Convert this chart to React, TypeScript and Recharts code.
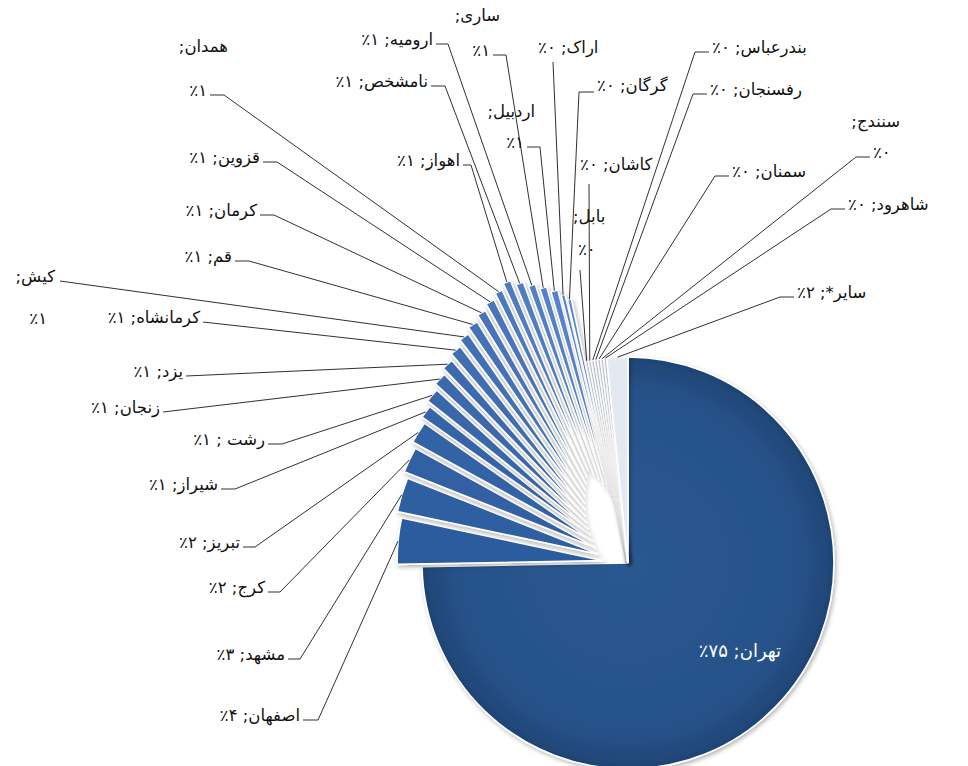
import React from 'react';
import { PieChart, Pie, Cell, Sector } from 'recharts';

// share of users by city (percent of total)
const cities = [
  'تهران', 'اصفهان', 'مشهد', 'کرج', 'تبریز', 'شیراز', 'رشت ', 'زنجان', 'یزد', 'کرمانشاه',
  'کیش', 'قم', 'کرمان', 'قزوین', 'همدان', 'اهواز', 'نامشخص', 'ارومیه', 'ساری', 'اردبیل',
  'اراک', 'گرگان', 'بابل', 'کاشان', 'بندرعباس', 'رفسنجان', 'سمنان', 'سنندج', 'شاهرود', 'سایر*',
];
const shares = [
  74.7, 3.6, 2.7, 2.0, 1.7, 1.0, 1.1, 1.0, 0.9, 0.9,
  0.8, 0.8, 0.7, 0.7, 0.6, 0.6, 0.6, 0.55, 0.55, 0.55,
  0.3, 0.3, 0.24, 0.24, 0.24, 0.24, 0.24, 0.24, 0.24, 1.65,
];

const data = cities.map((name, i) => ({ name, value: shares[i] }));

// label placement (text anchor, baseline, leader attach point, stub length)
// split = name on one line, percent on the next
const labelLayout: any[] = [
  { x: 740, y: 657, a: 'middle', inside: true },
  { x: 300, y: 721, a: 'end', lx: 303, ly: 720, sx: 15 },
  { x: 285, y: 660, a: 'end', lx: 288, ly: 659, sx: 12 },
  { x: 265, y: 593, a: 'end', lx: 268, ly: 592, sx: 12 },
  { x: 240, y: 548, a: 'end', lx: 243, ly: 547, sx: 12 },
  { x: 218, y: 490, a: 'end', lx: 221, ly: 489, sx: 14 },
  { x: 265, y: 445, a: 'end', lx: 268, ly: 444, sx: 14 },
  { x: 160, y: 413, a: 'end', lx: 163, ly: 412, sx: 0 },
  { x: 183, y: 377, a: 'end', lx: 186, ly: 376, sx: 0 },
  { x: 200, y: 323, a: 'end', lx: 203, ly: 322, sx: 0 },
  { x: 55, y: 282, a: 'end', split: true, x2: 47, y2: 324, a2: 'end', lx: 60, ly: 281, sx: 0 },
  { x: 232, y: 262, a: 'end', lx: 235, ly: 261, sx: 14 },
  { x: 257, y: 216, a: 'end', lx: 260, ly: 215, sx: 14 },
  { x: 260, y: 163, a: 'end', lx: 263, ly: 162, sx: 14 },
  { x: 228, y: 52, a: 'end', split: true, x2: 207, y2: 96, a2: 'end', lx: 210, ly: 95, sx: 14 },
  { x: 460, y: 166, a: 'end', lx: 463, ly: 165, sx: 8 },
  { x: 428, y: 87, a: 'end', lx: 431, ly: 86, sx: 14 },
  { x: 433, y: 45, a: 'end', lx: 436, ly: 44, sx: 12 },
  { x: 500, y: 21, a: 'end', split: true, x2: 490, y2: 56, a2: 'end', lx: 493, ly: 55, sx: 13 },
  { x: 535, y: 117, a: 'end', split: true, x2: 524, y2: 148, a2: 'end', lx: 527, ly: 147, sx: 13 },
  { x: 538, y: 53, a: 'start', lx: 553, ly: 62, sx: 0 },
  { x: 597, y: 91, a: 'start', lx: 594, ly: 92, sx: -15 },
  { x: 573, y: 222, a: 'start', split: true, x2: 578, y2: 255, a2: 'start', lx: 580, ly: 270, sx: 0 },
  { x: 580, y: 170, a: 'start', lx: 589, ly: 184, sx: 0 },
  { x: 712, y: 53, a: 'start', lx: 709, ly: 52, sx: -14 },
  { x: 710, y: 95, a: 'start', lx: 707, ly: 94, sx: -14 },
  { x: 732, y: 177, a: 'start', lx: 729, ly: 176, sx: -14 },
  { x: 900, y: 127, a: 'end', split: true, x2: 873, y2: 158, a2: 'start', lx: 870, ly: 157, sx: -14 },
  { x: 848, y: 210, a: 'start', lx: 845, ly: 209, sx: -14 },
  { x: 797, y: 298, a: 'start', lx: 794, ly: 297, sx: -14 },
];

const RAD = Math.PI / 180;
const FAN_END = 21; // slices 1..21 are pulled out of the pie
const RLM = '\u200F';

// how far each slice is pulled out, px
const explodeFor = (i: number) => {
  if (i < 1 || i > FAN_END) return 0;
  return i <= 15 ? 25 + (75 * (i - 1)) / 14 : 100 - 6 * (i - 15);
};

const colorFor = (i: number) => {
  if (i === 0) return 'url(#tehranGrad)';
  if (i <= FAN_END) {
    const t = (i - 1) / (FAN_END - 1);
    const r = Math.round(44 + (92 - 44) * t);
    const g = Math.round(92 + (136 - 92) * t);
    const b = Math.round(158 + (206 - 158) * t);
    return `rgb(${r},${g},${b})`;
  }
  if (i < cities.length - 1) return '#c9ced6';
  return '#e3e9f2';
};

const faDigits = (n: number) => String(n).replace(/\d/g, (d) => '۰۱۲۳۴۵۶۷۸۹'[+d]);

const indexOfSlice = (p: any) => {
  const name = p.name ?? p.payload?.name;
  return cities.indexOf(name);
};

const ExplodedSector = (props: any) => {
  const i = indexOfSlice(props);
  const d = explodeFor(i);
  const dx = d * Math.cos(-props.midAngle * RAD);
  const dy = d * Math.sin(-props.midAngle * RAD);
  return (
    <g filter="url(#sh)">
      <Sector {...props} cx={props.cx + dx} cy={props.cy + dy} />
    </g>
  );
};

const FONT = "'DejaVu Sans', sans-serif";
const FS = 16.5;

const renderLabel = (p: any) => {
  const i = p.index ?? indexOfSlice(p);
  const L = labelLayout[i];
  if (!L) return null;
  const pct = faDigits(Math.round(p.percent * 100));
  const name = cities[i];

  if (L.inside) {
    return (
      <text x={L.x} y={L.y} textAnchor="middle" fill="#fff" fontSize={18} fontFamily={FONT}>
        {RLM + name + '; ' + pct + '٪' + RLM}
      </text>
    );
  }

  const d = explodeFor(i);
  const r = p.outerRadius + d;
  const ex = p.cx + r * Math.cos(-p.midAngle * RAD);
  const ey = p.cy + r * Math.sin(-p.midAngle * RAD);
  const pts = L.sx
    ? `${ex},${ey} ${L.lx + L.sx},${L.ly} ${L.lx},${L.ly}`
    : `${ex},${ey} ${L.lx},${L.ly}`;

  return (
    <g>
      <polyline points={pts} fill="none" stroke="#1a1a1a" strokeWidth={0.9} />
      {L.split ? (
        <>
          <text x={L.x} y={L.y} textAnchor={L.a} fill="#111" fontSize={FS} fontFamily={FONT}>
            {RLM + name + ';' + RLM}
          </text>
          <text x={L.x2} y={L.y2} textAnchor={L.a2} fill="#111" fontSize={FS} fontFamily={FONT}>
            {'٪' + pct}
          </text>
        </>
      ) : (
        <text x={L.x} y={L.y} textAnchor={L.a} fill="#111" fontSize={FS} fontFamily={FONT}>
          {RLM + name + '; ' + pct + '٪' + RLM}
        </text>
      )}
    </g>
  );
};

const App = () => {
  return (
    <div style={{ position: 'absolute', left: 0, top: 0, width: 968, height: 766, background: '#fff' }}>
      <PieChart width={968} height={766} margin={{ top: 0, right: 0, bottom: 0, left: 0 }}>
        <defs>
          <radialGradient id="tehranGrad" cx="50%" cy="50%" r="50%">
            <stop offset="0%" stopColor="#2b5891" />
            <stop offset="85%" stopColor="#275188" />
            <stop offset="100%" stopColor="#1e4474" />
          </radialGradient>
          <filter id="sh" x="-30%" y="-30%" width="160%" height="160%">
            <feDropShadow dx={1.5} dy={2} stdDeviation={2} floodColor="#000" floodOpacity={0.3} />
          </filter>
        </defs>
        <Pie
          data={data}
          dataKey="value"
          nameKey="name"
          cx={628}
          cy={563}
          innerRadius={0}
          outerRadius={206}
          startAngle={90}
          endAngle={-270}
          stroke="#ffffff"
          strokeWidth={1.6}
          label={renderLabel}
          labelLine={false}
          shape={ExplodedSector}
          inactiveShape={ExplodedSector}
          activeShape={ExplodedSector}
          isAnimationActive={false}
        >
          {data.map((entry, i) => (
            <Cell key={entry.name} fill={colorFor(i)} />
          ))}
        </Pie>
      </PieChart>
    </div>
  );
};

export default App;
